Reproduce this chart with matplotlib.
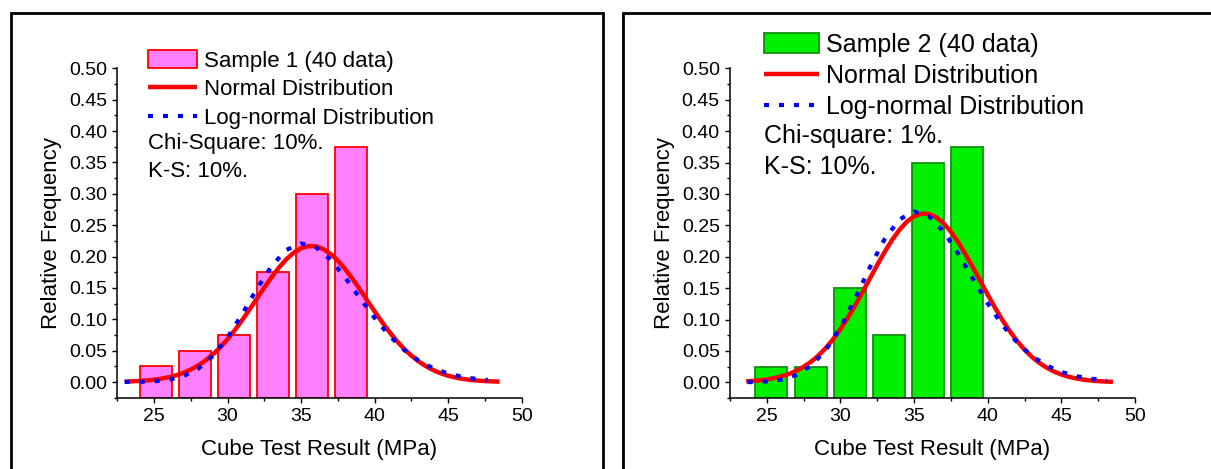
import matplotlib
matplotlib.use("Agg")
import matplotlib.pyplot as plt
import numpy as np
from matplotlib.lines import Line2D
from matplotlib.ticker import MultipleLocator

plt.rcParams['font.family'] = ['Liberation Sans', 'DejaVu Sans']

# ---------------- data ----------------
bins1 = [25.15, 27.8, 30.45, 33.1, 35.75, 38.4]
freq1 = [0.025, 0.05, 0.075, 0.175, 0.30, 0.375]
bins2 = [25.3, 27.97, 30.63, 33.28, 35.95, 38.6]
freq2 = [0.025, 0.025, 0.15, 0.075, 0.35, 0.375]

norm_x1 = [23, 23.5, 24, 24.5, 25, 25.5, 26, 26.5, 27, 27.5, 28, 28.5, 29, 29.5,
           30, 30.5, 31, 31.5, 32, 32.5, 33, 33.5, 34, 34.5, 35, 35.5, 36, 36.5,
           37, 37.5, 38, 38.5, 39, 39.5, 40, 40.5, 41, 41.5, 42, 42.5, 43, 43.5,
           44, 44.5, 45, 45.5, 46, 46.5, 47, 47.5, 48, 48.5]
norm_y1 = [0.0007, 0.0011, 0.0017, 0.0025, 0.0037, 0.0054, 0.0077, 0.0107, 0.0147,
           0.0199, 0.0264, 0.0344, 0.0440, 0.0553, 0.0684, 0.0830, 0.0990, 0.1159,
           0.1334, 0.1508, 0.1675, 0.1827, 0.1958, 0.2062, 0.2133, 0.2167, 0.2163,
           0.2121, 0.2043, 0.1934, 0.1798, 0.1642, 0.1474, 0.1299, 0.1125, 0.0957,
           0.0799, 0.0656, 0.0529, 0.0419, 0.0326, 0.0250, 0.0188, 0.0138, 0.0100,
           0.0071, 0.0050, 0.0034, 0.0023, 0.0015, 0.0010, 0.0006]

logn_x1 = [23, 24, 25, 26, 27, 28, 29, 30, 31, 32, 33, 34, 35, 36, 37, 38, 39, 40,
           41, 42, 43, 44, 45, 46, 47, 47.7]
logn_y1 = [0.0001, 0.0003, 0.0011, 0.0036, 0.0094, 0.0213, 0.0415, 0.0712, 0.1087,
           0.1489, 0.1852, 0.2107, 0.2209, 0.2149, 0.1952, 0.1663, 0.1338, 0.1020,
           0.0740, 0.0513, 0.0340, 0.0217, 0.0134, 0.0080, 0.0046, 0.0032]

norm_x2 = [23.6, 24, 24.5, 25, 25.5, 26, 26.5, 27, 27.5, 28, 28.5, 29, 29.5,
           30, 30.5, 31, 31.5, 32, 32.5, 33, 33.5, 34, 34.5, 35, 35.5, 36, 36.5,
           37, 37.5, 38, 38.5, 39, 39.5, 40, 40.5, 41, 41.5, 42, 42.5, 43, 43.5,
           44, 44.5, 45, 45.5, 46, 46.5, 47, 47.5, 48, 48.5]
norm_y2 = [0.0015, 0.0021, 0.0031, 0.0046, 0.0067, 0.0095, 0.0133, 0.0182, 0.0247,
           0.0327, 0.0426, 0.0545, 0.0686, 0.0848, 0.1029, 0.1227, 0.1437, 0.1654,
           0.1870, 0.2077, 0.2265, 0.2427, 0.2556, 0.2645, 0.2686, 0.2681, 0.2629,
           0.2533, 0.2397, 0.2229, 0.2035, 0.1827, 0.1610, 0.1395, 0.1186, 0.0990,
           0.0813, 0.0656, 0.0519, 0.0404, 0.0310, 0.0233, 0.0171, 0.0124, 0.0088,
           0.0062, 0.0042, 0.0029, 0.0019, 0.0012, 0.0007]

logn_x2 = [23.7, 24, 25, 26, 27, 28, 29, 30, 31, 32, 33, 34, 35, 36, 37, 38, 39, 40,
           41, 42, 43, 44, 45, 46, 47, 48.1]
logn_y2 = [0.0003, 0.0004, 0.0014, 0.0044, 0.0116, 0.0262, 0.0511, 0.0876, 0.1338,
           0.1833, 0.2280, 0.2594, 0.2719, 0.2645, 0.2403, 0.2047, 0.1647, 0.1256,
           0.0911, 0.0632, 0.0419, 0.0267, 0.0165, 0.0098, 0.0057, 0.0030]

labels1 = ["Sample 1 (40 data)", "Normal Distribution", "Log-normal Distribution"]
labels2 = ["Sample 2 (40 data)", "Normal Distribution", "Log-normal Distribution"]
notes1 = ["Chi-Square: 10%.", "K-S: 10%."]
notes2 = ["Chi-square: 1%.", "K-S: 10%."]

XMIN, XMAX = 22.5, 50
YMIN, YMAX = -0.025, 0.50

W, H = 1211, 469
fig = plt.figure(figsize=(W / 100, H / 100), dpi=100)


def px(x, y):
    return x / W, 1 - y / H


def make_panel(rect, bins, freq, bw, fc, ec, nx, ny, lx, ly, labels, notes,
               leg_xy, leg_fs, leg_sp, note_xy, note_dy):
    ax = fig.add_axes(rect)
    bars = ax.bar(bins, np.array(freq) - YMIN, bottom=YMIN, width=bw,
                  facecolor=fc, edgecolor=ec, linewidth=1.3, zorder=2)
    ln, = ax.plot(nx, ny, color='#ff0000', lw=3.2, zorder=3,
                  solid_capstyle='butt')
    lg, = ax.plot(lx, ly, color='#0000ff', lw=3.0, zorder=4,
                  linestyle=(0, (1.2, 2.4)), dash_capstyle='butt')
    ax.set_xlim(XMIN, XMAX)
    ax.set_ylim(YMIN, YMAX)
    ax.xaxis.set_major_locator(MultipleLocator(5))
    ax.xaxis.set_minor_locator(MultipleLocator(2.5))
    ax.set_yticks(np.arange(0, 0.501, 0.05))
    ax.yaxis.set_minor_locator(MultipleLocator(0.025))
    ax.yaxis.set_major_formatter(matplotlib.ticker.FormatStrFormatter('%.2f'))
    for s in ['top', 'right']:
        ax.spines[s].set_visible(False)
    for s in ['left', 'bottom']:
        ax.spines[s].set_linewidth(1.1)
    ax.tick_params(which='major', direction='out', length=3.8, width=1.0,
                   labelsize=14, pad=3.5)
    ax.tick_params(which='minor', direction='out', length=2.2, width=1.0)
    ax.set_xlabel("Cube Test Result (MPa)", fontsize=16, labelpad=10)
    ax.set_ylabel("Relative Frequency", fontsize=16, labelpad=5)
    ax.legend([bars, ln, lg], labels, loc='upper left',
              bbox_to_anchor=px(*leg_xy), bbox_transform=fig.transFigure,
              frameon=False, fontsize=leg_fs, borderpad=0, borderaxespad=0,
              handlelength=2.2, handleheight=0.85, handletextpad=0.3,
              labelspacing=leg_sp)
    for i, t in enumerate(notes):
        fig.text(*px(note_xy[0], note_xy[1] + i * note_dy), t, fontsize=leg_fs,
                 va='center', ha='left')
    return ax


make_panel([117.3 / W, 71.3 / H, 404.4 / W, 329.3 / H], bins1, freq1, 2.15,
           '#ff80ff', '#ff0000', norm_x1, norm_y1, logn_x1, logn_y1,
           labels1, notes1, (148, 50), 16, 0.32, (148, 144), 27.5)
make_panel([730 / W, 71.0 / H, 405 / W, 329.6 / H], bins2, freq2, 2.18,
           '#00f000', '#109010', norm_x2, norm_y2, logn_x2, logn_y2,
           labels2, notes2, (764, 33), 18, 0.28, (764, 136), 31)

# panel frames
lwf = 2.0
fig.add_artist(Line2D([10.7 / W, 10.7 / W, 603.3 / W, 603.3 / W],
                      [-0.05, 1 - 13.3 / H, 1 - 13.3 / H, -0.05],
                      color='black', lw=lwf, transform=fig.transFigure,
                      solid_joinstyle='miter'))
fig.add_artist(Line2D([622.7 / W, 622.7 / W, 1.05],
                      [-0.05, 1 - 13.3 / H, 1 - 13.3 / H],
                      color='black', lw=lwf, transform=fig.transFigure,
                      solid_joinstyle='miter'))

fig.savefig("out.png", dpi=100)
